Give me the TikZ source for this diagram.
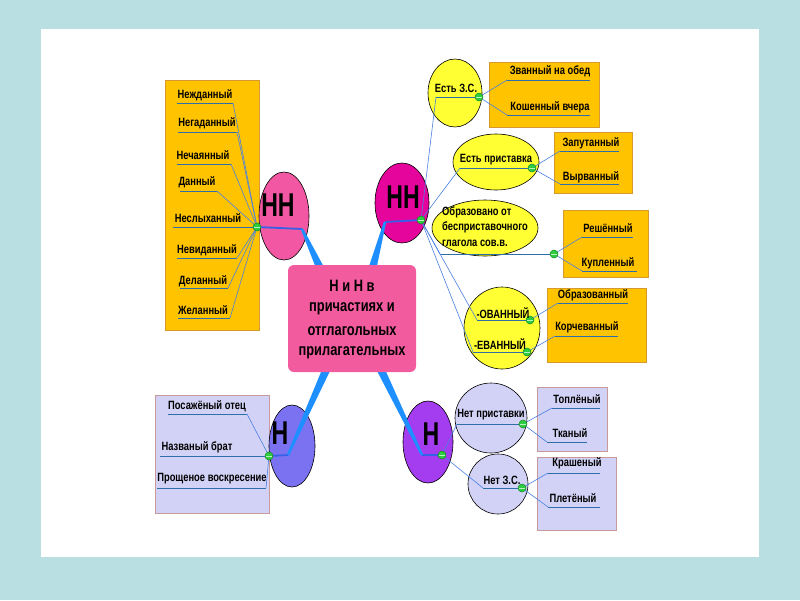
\documentclass[tikz,border=0pt]{standalone}
\usepackage{fontspec}
\setmainfont{Liberation Sans}
\newfontfamily\lblfont[FakeStretch=0.78]{Liberation Sans}
\newfontfamily\bigfont[FakeStretch=0.7]{Liberation Sans}
\usetikzlibrary{shapes.geometric,calc}
\definecolor{bgc}{HTML}{B9DFE3}
\definecolor{orangec}{HTML}{FFC300}
\definecolor{oborder}{HTML}{D49A30}
\definecolor{yellowc}{HTML}{FFFF33}
\definecolor{pinkl}{HTML}{F157A3}
\definecolor{magr}{HTML}{E6059C}
\definecolor{centerc}{HTML}{F25C9E}
\definecolor{bluel}{HTML}{7B72F2}
\definecolor{purpr}{HTML}{A43CF0}
\definecolor{lavc}{HTML}{D2D2F7}
\definecolor{lborder}{HTML}{C89A9A}
\definecolor{thickc}{HTML}{1E8FFF}
\definecolor{connc}{HTML}{4A80E0}
\definecolor{hconn}{HTML}{3560E8}
\definecolor{ulc}{HTML}{2F6FA8}
\definecolor{knobc}{HTML}{2ECC40}
\definecolor{knobd}{HTML}{138A1E}
\definecolor{knobm}{HTML}{B8F0C0}
\definecolor{inkc}{HTML}{000000}
\tikzset{
  obox/.style={rectangle, draw=oborder, fill=orangec, line width=0.6pt, inner sep=0},
  lbox/.style={rectangle, draw=lborder, fill=lavc, line width=0.6pt, inner sep=0},
  ell/.style={ellipse, draw=black, line width=0.6pt, inner sep=0},
  lbl/.style={font=\lblfont\bfseries\fontsize{12}{14}\selectfont, text=inkc, inner sep=0},
  ctl/.style={font=\lblfont\bfseries\fontsize{16.5}{20}\selectfont, text=inkc, inner sep=0},
  bigl/.style={font=\bigfont\bfseries\fontsize{33}{36}\selectfont, text=inkc, inner sep=0},
  uline/.style={draw=ulc, line width=0.8pt},
  conn/.style={draw=connc, line width=0.6pt},
  hline/.style={draw=hconn, line width=1.8pt},
  knob/.style={circle, fill=knobc, draw=knobd, line width=0.5pt, minimum size=8pt, inner sep=0},
  knobbar/.style={draw=knobm, line width=1pt},
}
\newcommand{\taper}[2]{%
  \fill[thickc] ($(#1)!4pt!90:(#2)$) -- ($(#2)!1.2pt!-90:(#1)$) -- ($(#2)!1.2pt!90:(#1)$) -- ($(#1)!4pt!-90:(#2)$) -- cycle;}
\begin{document}
\begin{tikzpicture}[x=1pt,y=-1pt]
\useasboundingbox (0,0) rectangle (800,600);
\fill[bgc] (0,0) rectangle (800,600);
\fill[white] (41,29) rectangle (759,557);

% ---------- boxes ----------
\node[obox, anchor=north west, minimum width=94, minimum height=250] (bl1) at (165,80) {};
\node[obox, anchor=north west, minimum width=110, minimum height=65] (b2) at (489,62) {};
\node[obox, anchor=north west, minimum width=78, minimum height=61] (b3) at (554,132) {};
\node[obox, anchor=north west, minimum width=85, minimum height=67] (b4) at (563,210) {};
\node[obox, anchor=north west, minimum width=99, minimum height=74] (b5) at (547,288) {};
\node[lbox, anchor=north west, minimum width=114, minimum height=118] (b6) at (155,395) {};
\node[lbox, anchor=north west, minimum width=70, minimum height=64] (b7) at (537,387) {};
\node[lbox, anchor=north west, minimum width=79, minimum height=73] (b8) at (537,457) {};

% ---------- ellipses ----------
\node[ell, fill=pinkl, minimum width=50, minimum height=88] (hhl) at (284,216) {};
\node[ell, fill=magr, minimum width=54, minimum height=80] (hhr) at (402,203) {};
\node[ell, fill=bluel, minimum width=46, minimum height=82] (hbl) at (292,446) {};
\node[ell, fill=purpr, minimum width=50, minimum height=82] (hbr) at (428,442) {};
\node[ell, fill=yellowc, minimum width=54, minimum height=68] (ez) at (455,93) {};
\node[ell, fill=yellowc, minimum width=86, minimum height=56] (ep) at (496,162) {};
\node[ell, fill=yellowc, minimum width=106, minimum height=56] (eo) at (485,228) {};
\node[ell, fill=yellowc, minimum width=76, minimum height=82] (ee) at (502,328) {};
\node[ell, fill=lavc, minimum width=72, minimum height=70] (en) at (491,418) {};
\node[ell, fill=lavc, minimum width=60, minimum height=60] (enz) at (498,484) {};

% ---------- dot coordinates ----------
\coordinate (d1) at (257,227);
\coordinate (d2) at (479,97);
\coordinate (d3) at (532,168);
\coordinate (d4) at (554,254);
\coordinate (d5) at (530,320);
\coordinate (d6) at (527,352);
\coordinate (d7) at (421,220);
\coordinate (d8) at (269,456);
\coordinate (d9) at (442,455);
\coordinate (d10) at (523,424);
\coordinate (d11) at (522,488);

% ---------- underline coordinates ----------
\coordinate (a1) at (177,103); \coordinate (e1) at (233,103);
\coordinate (a2) at (178,132); \coordinate (e2) at (237,132);
\coordinate (a3) at (177,164); \coordinate (e3) at (231,164);
\coordinate (a4) at (180,191); \coordinate (e4) at (217,191);
\coordinate (a5) at (173,227);
\coordinate (a6) at (177,258); \coordinate (e6) at (237,258);
\coordinate (a7) at (180,288); \coordinate (e7) at (228,288);
\coordinate (a8) at (178,318); \coordinate (e8) at (230,318);

\coordinate (zs) at (436,97);
\coordinate (z1a) at (507,80); \coordinate (z1e) at (590,80);
\coordinate (z2a) at (507,115); \coordinate (z2e) at (590,115);
\coordinate (ps) at (460,168);
\coordinate (p1a) at (560,151); \coordinate (p1e) at (619,151);
\coordinate (p2a) at (560,184); \coordinate (p2e) at (619,184);
\coordinate (os) at (440,254);
\coordinate (o1a) at (582,237); \coordinate (o1e) at (633,237);
\coordinate (o2a) at (582,271); \coordinate (o2e) at (637,271);
\coordinate (es1) at (477,320);
\coordinate (es2) at (473,352);
\coordinate (k1a) at (558,303); \coordinate (k1e) at (628,303);
\coordinate (k2a) at (555,336); \coordinate (k2e) at (618,336);
\coordinate (q1a) at (168,414); \coordinate (q1e) at (247,414);
\coordinate (q2a) at (160,456);
\coordinate (q3a) at (157,488); \coordinate (q3e) at (266,488);
\coordinate (ns) at (457,424);
\coordinate (t1a) at (552,408); \coordinate (t1e) at (600,408);
\coordinate (t2a) at (547,442); \coordinate (t2e) at (587,442);
\coordinate (zz) at (483,488);
\coordinate (c1a) at (548,473); \coordinate (c1e) at (600,473);
\coordinate (c2a) at (548,507); \coordinate (c2e) at (600,507);

% bends of main connectors
\coordinate (bTL) at (302,229); \coordinate (sTL) at (321,270);
\coordinate (bTR) at (385,222); \coordinate (sTR) at (372,270);
\coordinate (bBL) at (288,455); \coordinate (sBL) at (327,368);
\coordinate (bBR) at (422,455); \coordinate (sBR) at (380,368);

% ---------- underlines ----------
\foreach \p/\q in {a1/e1,a2/e2,a3/e3,a4/e4,a5/d1,a6/e6,a7/e7,a8/e8,
  z1a/z1e,z2a/z2e,p1a/p1e,p2a/p2e,o1a/o1e,o2a/o2e,k1a/k1e,k2a/k2e,
  q1a/q1e,q2a/d8,q3a/q3e,t1a/t1e,t2a/t2e,c1a/c1e,c2a/c2e,
  zs/d2,ps/d3,os/d4,es1/d5,es2/d6,ns/d10,zz/d11}
  \draw[uline] (\p) -- (\q);

% ---------- thin connectors ----------
\foreach \q in {e1,e2,e3,e4,e6,e7,e8} \draw[conn] (d1) -- (\q);
\foreach \q in {zs,ps,os,es1,es2} \draw[conn] (d7) -- (\q);
\draw[conn] (d2) -- (z1a); \draw[conn] (d2) -- (z2a);
\draw[conn] (d3) -- (p1a); \draw[conn] (d3) -- (p2a);
\draw[conn] (d4) -- (o1a); \draw[conn] (d4) -- (o2a);
\draw[conn] (d5) -- (k1a); \draw[conn] (d6) -- (k2a);
\draw[conn] (d8) -- (q1e); \draw[conn] (d8) -- (q3e);
\draw[conn] (d9) -- (ns); \draw[conn] (d9) -- (zz);
\draw[conn] (d10) -- (t1a); \draw[conn] (d10) -- (t2a);
\draw[conn] (d11) -- (c1a); \draw[conn] (d11) -- (c2a);

% ---------- main connectors ----------
\draw[hline] (d1) -- (bTL);
\draw[hline] (d7) -- (bTR);
\draw[hline] (d8) -- (bBL);
\draw[hline] (d9) -- (bBR);
\taper{sTL}{bTL}
\taper{sTR}{bTR}
\taper{sBL}{bBL}
\taper{sBR}{bBR}

% ---------- center box ----------
\node[rectangle, rounded corners=6pt, fill=centerc, minimum width=128, minimum height=107, inner sep=0] (ctr) at (352,318.5) {};
\node[ctl] (ct1) at (352,286) {\color{inkc}Н и Н в};
\node[ctl] (ct2) at (352,309) {\color{inkc}причастиях и};
\node[ctl] (ct3) at (352,331) {\color{inkc}отглагольных};
\node[ctl] (ct4) at (352,353) {\color{inkc}прилагательных};

% ---------- knobs ----------
\foreach \d in {d1,d2,d3,d4,d5,d6,d7,d8,d9,d10,d11}{
  \node[knob] (k\d) at (\d) {};
  \draw[knobbar] ([xshift=-2.6pt]k\d.center) -- ([xshift=2.6pt]k\d.center);
}

% ---------- big letters ----------
\node[bigl] (thhl) at (278,205) {НН};
\node[bigl] (thhr) at (403,197) {НН};
\node[bigl] (thbl) at (280,433) {Н};
\node[bigl] (thbr) at (431,434) {Н};

% ---------- labels ----------
\node[lbl] (l1) at (205,95) {Нежданный};
\node[lbl] (l2) at (207,123) {Негаданный};
\node[lbl] (l3) at (203,155) {Нечаянный};
\node[lbl] (l4) at (197,182) {Данный};
\node[lbl] (l5) at (208,218) {Неслыханный};
\node[lbl] (l6) at (207,250) {Невиданный};
\node[lbl] (l7) at (203,281) {Деланный};
\node[lbl] (l8) at (203,310) {Желанный};

\node[lbl] (lz) at (456,88) {Есть З.С.};
\node[lbl] (lz1) at (550,71) {Званный на обед};
\node[lbl] (lz2) at (550,107) {Кошенный вчера};
\node[lbl] (lp) at (496,160) {Есть приставка};
\node[lbl] (lp1) at (591,143) {Запутанный};
\node[lbl] (lp2) at (591,177) {Вырванный};
\node[lbl, anchor=west] (lo1t) at (442,212) {Образовано от};
\node[lbl, anchor=west] (lo2t) at (442,227) {бесприставочного};
\node[lbl, anchor=west] (lo3t) at (442,243) {глагола сов.в.};
\node[lbl] (lo1) at (608,228) {Решённый};
\node[lbl] (lo2) at (608,263) {Купленный};
\node[lbl] (le1) at (503,313) {-ОВАННЫЙ};
\node[lbl] (le2) at (500,344) {-ЕВАННЫЙ};
\node[lbl] (lk1) at (593,295) {Образованный};
\node[lbl] (lk2) at (587,327) {Корчеванный};
\node[lbl] (lq1) at (207,406) {Посажёный отец};
\node[lbl] (lq2) at (197,447) {Названый брат};
\node[lbl] (lq3) at (212,479) {Прощеное воскресение};
\node[lbl] (ln) at (491,415) {Нет приставки};
\node[lbl] (lt1) at (577,399) {Топлёный};
\node[lbl] (lt2) at (570,433) {Тканый};
\node[lbl] (lnz) at (502,480) {Нет З.С.};
\node[lbl] (lc1) at (577,463) {Крашеный};
\node[lbl] (lc2) at (573,498) {Плетёный};
\end{tikzpicture}
\end{document}
